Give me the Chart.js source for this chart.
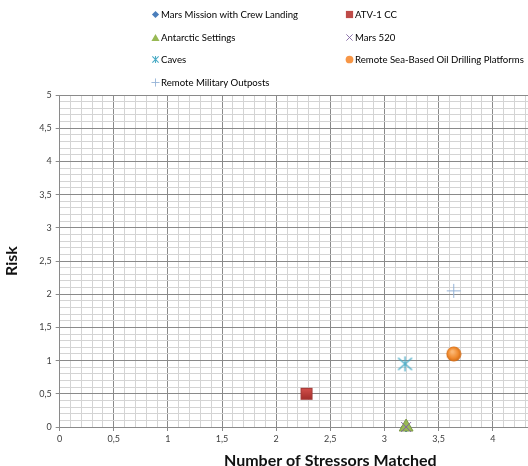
<!DOCTYPE html>
<html>
<head>
<meta charset="utf-8">
<script src="https://cdn.jsdelivr.net/npm/chart.js@4.4.1/dist/chart.umd.min.js"></script>
<style>
  html, body { margin: 0; padding: 0; background: #fff; overflow: hidden; width: 528px; height: 466px; }
  #wrap { position: relative; width: 528px; height: 466px; overflow: hidden; }
  #chart { position: absolute; left: 0; top: 0; }
  .legend { position: absolute; font-family: Lato, "Liberation Sans", sans-serif; font-size: 9.6px; color: #000; white-space: nowrap; }
  .legend .item { position: absolute; display: flex; align-items: center; }
  .legend svg { width: 9px; height: 9px; margin-right: 1px; }
</style>
</head>
<body>
<div id="wrap">
  <canvas id="chart" width="610" height="472"></canvas>
  <div class="legend" id="legend"></div>
</div>
<script>
// chart data
const seriesNames = [
  'Mars Mission with Crew Landing',
  'ATV-1 CC',
  'Antarctic Settings',
  'Mars 520',
  'Caves',
  'Remote Sea-Based Oil Drilling Platforms',
  'Remote Military Outposts'
]
const stressorsMatched = [3.2, 2.28, 3.2, 3.2, 3.19, 3.64, 3.64]
const riskValues = [0, 0.5, 0, 0, 0.95, 1.1, 2.05]
const seriesColors = ['#4a7ebb', '#be4b48', '#98b954', '#8064a2', '#4bacc6', '#f79646', '#95b3d7']

const xMax = 5
const yMax = 5
const gridStep = 0.1

// legend positions (two columns, excel style)
const legendSlots = [[0, 0], [1, 0], [0, 1], [1, 1], [0, 2], [1, 2], [0, 3]]

function legendIcon(i) {
  const c = seriesColors[i]
  switch (i) {
    case 0: return `<svg viewBox="0 0 10 10"><polygon points="5,1 9,5 5,9 1,5" fill="${c}"/></svg>`
    case 1: return `<svg viewBox="0 0 10 10"><rect x="1" y="1" width="8" height="8" fill="${c}"/></svg>`
    case 2: return `<svg viewBox="0 0 10 10"><polygon points="5,1 9.5,9 0.5,9" fill="${c}"/></svg>`
    case 3: return `<svg viewBox="0 0 10 10"><path d="M1.5,1.5 L8.5,8.5 M8.5,1.5 L1.5,8.5" stroke="${c}" stroke-width="1"/></svg>`
    case 4: return `<svg viewBox="0 0 10 10"><path d="M1.5,1.5 L8.5,8.5 M8.5,1.5 L1.5,8.5 M5,1 L5,9" stroke="${c}" stroke-width="1.2"/></svg>`
    case 5: return `<svg viewBox="0 0 10 10"><circle cx="5" cy="5" r="4.3" fill="${c}"/></svg>`
    default: return `<svg viewBox="0 0 10 10"><path d="M5,0.5 L5,9.5 M0.5,5 L9.5,5" stroke="${c}" stroke-width="1"/></svg>`
  }
}

const legendEl = document.getElementById('legend')
seriesNames.forEach((name, i) => {
  const [col, row] = legendSlots[i]
  const div = document.createElement('div')
  div.className = 'item'
  div.style.left = (col ? 345 : 151) + 'px'
  div.style.top = (9 + row * 22.6) + 'px'
  div.innerHTML = legendIcon(i) + '<span>' + name + '</span>'
  legendEl.appendChild(div)
})

// custom markers
function makeCanvas(size, draw) {
  const cv = document.createElement('canvas')
  cv.width = size
  cv.height = size
  draw(cv.getContext('2d'), size)
  return cv
}

const squareMark = makeCanvas(14, (g, s) => {
  const grad = g.createLinearGradient(0, 0, 0, s)
  grad.addColorStop(0, '#d9534f')
  grad.addColorStop(1, '#9c2a27')
  g.fillStyle = grad
  g.fillRect(1, 1, s - 2, s - 2)
  g.strokeStyle = '#a33b38'
  g.strokeRect(1.5, 1.5, s - 3, s - 3)
})

const circleMark = makeCanvas(16, (g, s) => {
  const grad = g.createRadialGradient(s * 0.4, s * 0.35, 1, s / 2, s / 2, s / 2)
  grad.addColorStop(0, '#fbb774')
  grad.addColorStop(0.6, '#f08a2e')
  grad.addColorStop(1, '#c86514')
  g.fillStyle = grad
  g.beginPath()
  g.arc(s / 2, s / 2, s / 2 - 0.5, 0, Math.PI * 2)
  g.fill()
})

const caveMark = makeCanvas(17, (g, s) => {
  g.strokeStyle = '#4bacc6'
  g.lineWidth = 1.3
  g.beginPath()
  g.moveTo(1.5, 2.5); g.lineTo(s - 1.5, s - 2.5)
  g.moveTo(s - 1.5, 2.5); g.lineTo(1.5, s - 2.5)
  g.moveTo(s / 2, 1); g.lineTo(s / 2, s - 1)
  g.stroke()
})

const pointStyles = ['rectRot', squareMark, 'triangle', 'crossRot', caveMark, circleMark, 'cross']
const pointRadii = [5, 7, 8, 7, 8, 8, 7]

const datasets = seriesNames.map((name, i) => ({
  label: name,
  data: [{ x: stressorsMatched[i], y: riskValues[i] }],
  pointStyle: pointStyles[i],
  pointRadius: pointRadii[i],
  pointHoverRadius: pointRadii[i],
  backgroundColor: seriesColors[i],
  borderColor: i === 2 ? '#7f9a48' : seriesColors[i],
  borderWidth: 1,
  clip: false,
  order: 10 - i
}))

const isMajor = (v) => Math.abs(v * 2 - Math.round(v * 2)) < 1e-6
const fmt = (v) => isMajor(v) ? String(Math.round(v * 10) / 10).replace('.', ',') : ''

const gridOpts = {
  color: (ctx) => ctx.tick && isMajor(ctx.tick.value) ? '#8a8a8a' : '#d4d4d4',
  tickColor: (ctx) => ctx.tick && isMajor(ctx.tick.value) ? '#8a8a8a' : 'rgba(0,0,0,0)',
  tickLength: 4,
  lineWidth: 1
}

const tickFont = { family: 'Lato, "Liberation Sans", sans-serif', size: 9 }
const titleFont = { family: 'Lato, "Liberation Sans", sans-serif', size: 16, weight: 'bold' }

new Chart(document.getElementById('chart'), {
  type: 'scatter',
  data: { datasets },
  options: {
    responsive: false,
    animation: false,
    events: [],
    layout: { padding: { top: 95, left: 2, right: 6, bottom: 2 } },
    plugins: { legend: { display: false }, tooltip: { enabled: false } },
    scales: {
      x: {
        type: 'linear',
        min: 0,
        max: xMax,
        border: { color: '#8a8a8a' },
        grid: gridOpts,
        ticks: {
          stepSize: gridStep,
          autoSkip: false,
          maxRotation: 0,
          color: '#404040',
          font: tickFont,
          padding: 3,
          callback: (v) => fmt(v)
        },
        title: { display: true, text: 'Number of Stressors Matched', color: '#111', font: titleFont, padding: { top: 3, bottom: 0 } }
      },
      y: {
        type: 'linear',
        min: 0,
        max: yMax,
        border: { color: '#8a8a8a' },
        grid: gridOpts,
        ticks: {
          stepSize: gridStep,
          autoSkip: false,
          color: '#404040',
          font: tickFont,
          padding: 4,
          callback: (v) => fmt(v)
        },
        title: { display: true, text: 'Risk', color: '#111', font: titleFont, padding: { top: 0, bottom: 14 } }
      }
    }
  }
})
</script>
</body>
</html>
